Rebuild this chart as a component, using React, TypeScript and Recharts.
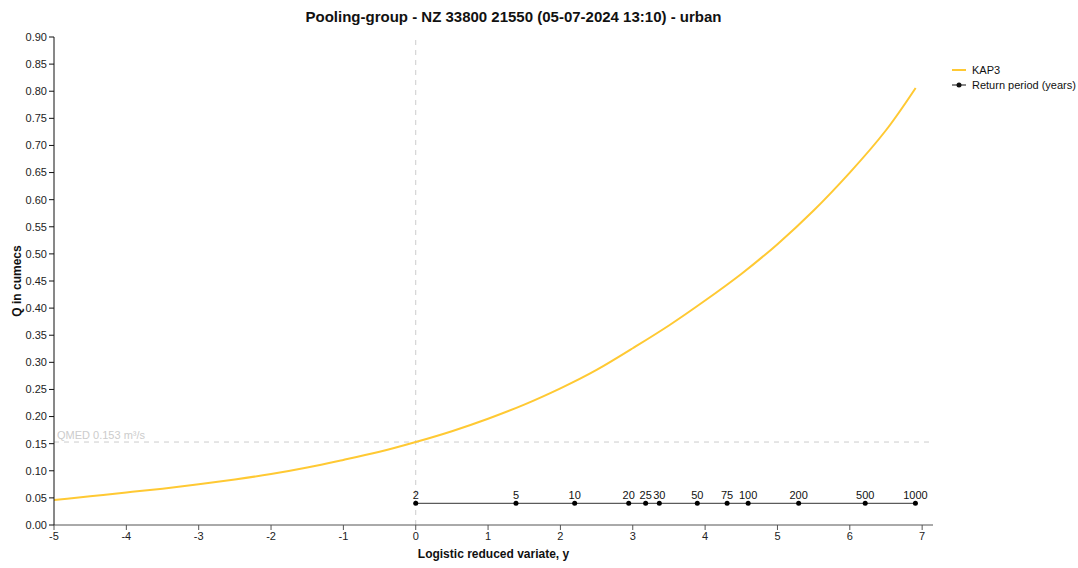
import React from "react";
import {
  ComposedChart,
  Line,
  XAxis,
  YAxis,
  ReferenceLine,
  LabelList,
} from "recharts";

// KAP3 growth curve (logistic reduced variate -> Q)
const curveY = [-5, -4.5, -4, -3.5, -3, -2.5, -2, -1.5, -1, -0.5, 0, 0.5, 1, 1.5, 2, 2.5, 3, 3.5, 4, 4.5, 5, 5.5, 6, 6.5, 6.91];
const curveQ = [
  0.046, 0.053, 0.06, 0.067, 0.075, 0.084, 0.094, 0.106, 0.12, 0.135, 0.153, 0.173, 0.196,
  0.222, 0.252, 0.286, 0.326, 0.368, 0.414, 0.463, 0.518, 0.58, 0.65, 0.728, 0.806,
];

// return periods and their reduced variate positions
const returnPeriods = [2, 5, 10, 20, 25, 30, 50, 75, 100, 200, 500, 1000];
const returnPeriodY = [0, 1.386, 2.197, 2.944, 3.178, 3.367, 3.892, 4.304, 4.595, 5.293, 6.213, 6.907];
const returnPeriodQ = 0.04;

const xTicks = [-5, -4, -3, -2, -1, 0, 1, 2, 3, 4, 5, 6, 7];
const yTicks = [0, 0.05, 0.1, 0.15, 0.2, 0.25, 0.3, 0.35, 0.4, 0.45, 0.5, 0.55, 0.6, 0.65, 0.7, 0.75, 0.8, 0.85, 0.9];
const qmed = 0.153;

const FONT = '"Liberation Sans", Arial, sans-serif';
const CURVE_COLOR = "#ffc933";

const curveData = curveY.map((y, i) => ({ y, q: curveQ[i] }));
const rpData = returnPeriods.map((t, i) => ({ y: returnPeriodY[i], q: returnPeriodQ, t }));

export default function App() {
  return (
    <div style={{ position: "absolute", left: 0, top: 0, width: 1078, height: 568, fontFamily: FONT }}>
      <div
        style={{
          position: "absolute",
          left: 0,
          width: 1027,
          top: 8,
          textAlign: "center",
          fontWeight: "bold",
          fontSize: 15,
          color: "#111",
        }}
      >
        Pooling-group - NZ 33800 21550 (05-07-2024 13:10) - urban
      </div>
      <div
        style={{
          position: "absolute",
          left: 17,
          top: 281,
          transform: "translate(-50%, -50%) rotate(-90deg)",
          whiteSpace: "nowrap",
          fontWeight: "bold",
          fontSize: 12,
          color: "#111",
        }}
      >
        Q in cumecs
      </div>
      <div
        style={{
          position: "absolute",
          left: 54,
          width: 879,
          top: 547,
          textAlign: "center",
          fontWeight: "bold",
          fontSize: 12,
          color: "#111",
        }}
      >
        Logistic reduced variate, y
      </div>
      <div style={{ position: "absolute", left: 952, top: 62, fontSize: 11, color: "#111" }}>
        <div style={{ display: "flex", alignItems: "center", height: 15 }}>
          <svg width={16} height={10}>
            <line x1={0} y1={5} x2={14} y2={5} stroke={CURVE_COLOR} strokeWidth={2} />
          </svg>
          <span style={{ marginLeft: 4 }}>KAP3</span>
        </div>
        <div style={{ display: "flex", alignItems: "center", height: 15 }}>
          <svg width={16} height={10}>
            <line x1={0} y1={5} x2={14} y2={5} stroke="#111" strokeWidth={1} />
            <circle cx={7} cy={5} r={2.5} fill="#111" />
          </svg>
          <span style={{ marginLeft: 4 }}>Return period (years)</span>
        </div>
      </div>
      <ComposedChart
        width={1078}
        height={568}
        margin={{ top: 37, right: 145, bottom: 13, left: 14 }}
        style={{ fontFamily: FONT }}
      >
        <XAxis
          type="number"
          dataKey="y"
          domain={[-5, 7.15]}
          ticks={xTicks}
          allowDataOverflow
          height={30}
          stroke="#555"
          tick={{ fill: "#222", fontSize: 11 }}
          tickSize={5}
        />
        <YAxis
          type="number"
          dataKey="q"
          domain={[0, 0.9]}
          ticks={yTicks}
          width={40}
          stroke="#111"
          tick={{ fill: "#222", fontSize: 11 }}
          tickSize={5}
          tickFormatter={(v: number) => v.toFixed(2)}
        />
        <ReferenceLine x={0} stroke="#ccc" strokeDasharray="5 5" />
        <ReferenceLine
          y={qmed}
          stroke="#ccc"
          strokeDasharray="5 5"
          label={{
            value: "QMED 0.153 m³/s",
            position: "insideBottomLeft",
            offset: 3,
            fill: "#ccc",
            fontSize: 11,
          }}
        />
        <Line
          data={curveData}
          dataKey="q"
          type="natural"
          stroke={CURVE_COLOR}
          strokeWidth={2}
          dot={false}
          isAnimationActive={false}
        />
        <Line
          data={rpData}
          dataKey="q"
          type="linear"
          stroke="#333"
          strokeWidth={1}
          dot={{ r: 2.5, fill: "#000", stroke: "#000", strokeWidth: 0 }}
          isAnimationActive={false}
        >
          <LabelList dataKey="t" position="top" offset={4} fill="#111" fontSize={11} />
        </Line>
      </ComposedChart>
    </div>
  );
}
